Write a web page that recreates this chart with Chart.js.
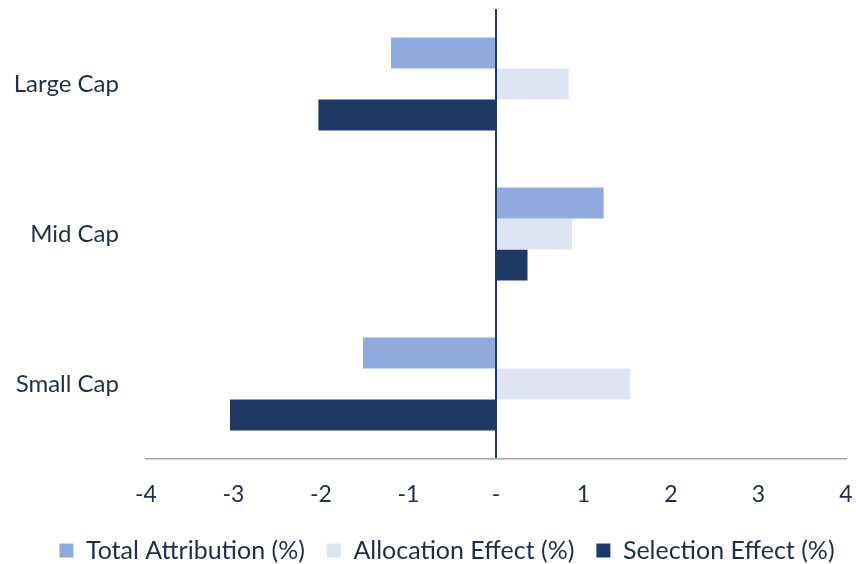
<!DOCTYPE html>
<html>
<head>
<meta charset="utf-8">
<script src="https://cdn.jsdelivr.net/npm/chart.js@4.4.1/dist/chart.umd.min.js"></script>
<style>
  html, body { margin: 0; padding: 0; background: #ffffff; }
  #wrap { width: 856px; height: 564px; position: relative; }
</style>
</head>
<body>
<div id="wrap"><canvas id="chart" width="856" height="564"></canvas></div>
<script>
// Attribution by market-cap segment (%)
const categories = ['Large Cap', 'Mid Cap', 'Small Cap'];
const totalAttribution = [-1.20, 1.23, -1.52];
const allocationEffect = [0.83, 0.87, 1.53];
const selectionEffect = [-2.03, 0.36, -3.04];
const xTicks = [-4, -3, -2, -1, 0, 1, 2, 3, 4];

const textColor = '#1F2D4D';
const fontFamily = 'Lato, "Open Sans", sans-serif';

// Nudge the legend row a little to the right of the canvas centre
const legendShift = {
  id: 'legendShift',
  afterLayout(chart) {
    if (chart.legend) {
      chart.legend.left += 17;
      chart.legend.right += 17;
    }
  }
};

new Chart(document.getElementById('chart'), {
  type: 'bar',
  data: {
    labels: categories,
    datasets: [
      { label: 'Total Attribution (%)', data: totalAttribution, backgroundColor: '#8FAADC' },
      { label: 'Allocation Effect (%)', data: allocationEffect, backgroundColor: '#DEE4F3' },
      { label: 'Selection Effect (%)', data: selectionEffect, backgroundColor: '#203864' }
    ]
  },
  plugins: [legendShift],
  options: {
    indexAxis: 'y',
    responsive: false,
    animation: false,
    layout: { padding: { left: 14, right: 10, top: 9, bottom: 0 } },
    datasets: { bar: { categoryPercentage: 0.62, barPercentage: 1.0 } },
    scales: {
      x: {
        min: -4,
        max: 4,
        z: 1,
        afterBuildTicks: (scale) => { scale.ticks = xTicks.map(v => ({ value: v })); },
        afterFit: (scale) => { scale.height = 57; scale.paddingLeft = 0; scale.paddingRight = 0; },
        grid: {
          drawTicks: false,
          lineWidth: 2,
          color: (ctx) => (ctx.tick && ctx.tick.value === 0 ? '#1F3864' : 'rgba(0,0,0,0)')
        },
        border: { display: true, color: '#A6A6A6', width: 1.5 },
        ticks: {
          padding: 22,
          maxRotation: 0,
          color: textColor,
          font: { family: fontFamily, size: 23 },
          callback: (v) => (v === 0 ? '-' : String(v))
        }
      },
      y: {
        afterFit: (scale) => { scale.width = 132; scale.paddingTop = 0; scale.paddingBottom = 0; },
        grid: { display: false, drawTicks: false },
        border: { display: false },
        ticks: {
          padding: 27,
          color: textColor,
          font: { family: fontFamily, size: 24 }
        }
      }
    },
    plugins: {
      legend: {
        position: 'bottom',
        maxHeight: 48,
        labels: {
          color: textColor,
          boxWidth: 14,
          boxHeight: 14,
          padding: 22,
          font: { family: fontFamily, size: 25 }
        }
      },
      tooltip: { enabled: false }
    }
  }
});
</script>
</body>
</html>
